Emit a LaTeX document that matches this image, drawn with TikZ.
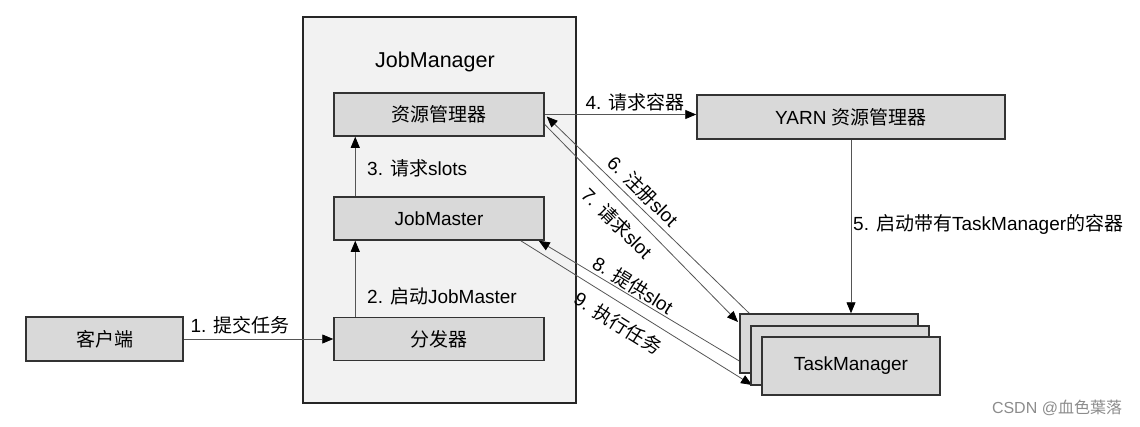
\documentclass[tikz,border=0pt]{standalone}
\usepackage{fontspec}
\setmainfont{Liberation Sans}
\newfontfamily\cjk{Noto Sans CJK SC}
\usetikzlibrary{arrows.meta}
\definecolor{boxgray}{HTML}{D9D9D9}
\definecolor{contgray}{HTML}{F2F2F2}
\definecolor{edgegray}{HTML}{555555}
\begin{document}
\begin{tikzpicture}[x=1pt,y=-1pt,
  font=\fontsize{19}{22}\selectfont,
  box/.style={draw=black!80, line width=1.5pt, fill=boxgray, minimum width=210pt, minimum height=43pt, inner sep=0pt},
  conn/.style={draw=edgegray, line width=0.8pt, -{Triangle[length=11pt,width=9pt,color=black]}},
  lbl/.style={inner sep=1pt}]
\useasboundingbox (0,0) rectangle (1140,426);
% container
\node[draw=black!85, line width=1.5pt, fill=contgray, minimum width=273pt, minimum height=386pt, inner sep=0pt] (jm) at (439.5,210) {};
\node[font=\fontsize{21.5}{25}\selectfont] (jmtitle) at (435,62) {JobManager};
% boxes
\node[box] (rm) at (439,114.5) {{\cjk 资源管理器}};
\node[box] (jobmaster) at (439,218.5) {JobMaster};
\node[box] (dispatch) at (439,339) {{\cjk 分发器}};
\node[box, minimum width=157pt, minimum height=44pt] (client) at (104.5,339) {{\cjk 客户端}};
\node[box, minimum width=308pt, minimum height=44pt] (yarn) at (851,117) {YARN {\cjk 资源管理器}};
% connectors under TaskManager stack
\coordinate (tmA) at (750,314);
\coordinate (tmB) at (751,368);
\draw[conn] (tmA) -- ([xshift=2pt,yshift=-2pt]rm.east);
\draw[conn] ([yshift=-10pt]rm.east) -- (738,322) coordinate (tm7);
\draw[conn] (tmB) -- ([xshift=-6pt]jobmaster.south east);
\draw[conn] ([xshift=-24pt]jobmaster.south east) -- (752,385) coordinate (tm9);
% TaskManager stack
\node[box, minimum width=178pt, minimum height=59pt] (tm1) at (829,343.5) {};
\node[box, minimum width=178pt, minimum height=59pt] (tm2) at (840,355.5) {};
\node[box, minimum width=178pt, minimum height=58pt] (tm3) at (851,366) {TaskManager};
% straight connectors
\draw[conn] (client.east) -- (dispatch.west);
\draw[conn] ([xshift=22pt]dispatch.north west) -- ([xshift=22pt]jobmaster.south west);
\draw[conn] ([xshift=22pt]jobmaster.north west) -- ([xshift=22pt]rm.south west);
\draw[conn] (rm.east) -- (rm.east -| yarn.west);
\draw[conn] (yarn.south) -- (yarn.south |- tm1.north);
% labels
\node[lbl] (l1) at (240,325) {1. {\cjk 提交任务}};
\node[lbl, anchor=west] (l2) at (366,296) {2. {\cjk 启动}JobMaster};
\node[lbl, anchor=west] (l3) at (366,168) {3. {\cjk 请求}slots};
\node[lbl] (l4) at (635,102) {4. {\cjk 请求容器}};
\node[lbl, anchor=west] (l5) at (852,224) {5. {\cjk 启动带有}TaskManager{\cjk 的容器}};
\node[lbl, rotate=-45] (l6) at (643,191) {6. {\cjk 注册}slot};
\node[lbl, rotate=-45] (l7) at (617,223) {7. {\cjk 请求}slot};
\node[lbl, rotate=-32] (l8) at (633,285) {8. {\cjk 提供}slot};
\node[lbl, rotate=-32] (l9) at (618,323) {9. {\cjk 执行任务}};
\node[lbl, text=black!45, font=\fontsize{16}{19}\selectfont] (wm) at (1057,408) {CSDN @{\cjk 血色葉落}};
\end{tikzpicture}
\end{document}
